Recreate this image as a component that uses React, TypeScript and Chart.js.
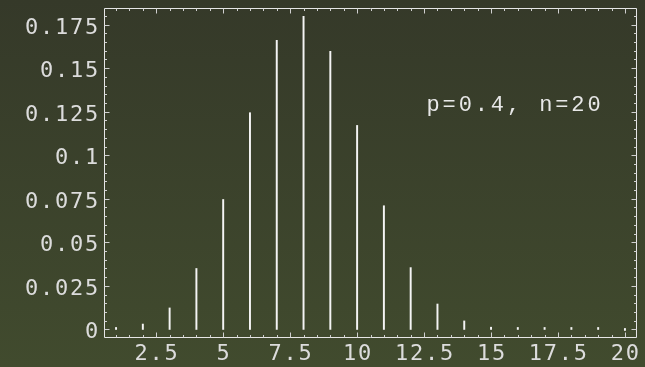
import React, { useEffect, useRef } from "react";
import { Chart, registerables } from "chart.js";

Chart.register(...registerables);

// Binomial distribution, p = 0.4, n = 20
const kValues = [1, 2, 3, 4, 5, 6, 7, 8, 9, 10, 11, 12, 13, 14, 15, 16, 17, 18, 19, 20];
const probabilities = [
  0.00049, 0.0031, 0.01235, 0.035, 0.0746, 0.1244, 0.1659, 0.1797, 0.1597, 0.1171,
  0.071, 0.0355, 0.0146, 0.0049, 0.0013, 0.00027, 0.00004, 0.000005, 0.0000003, 0.0,
];

const xTickValues = [2.5, 5, 7.5, 10, 12.5, 15, 17.5, 20];
const xTickLabels = ["2.5", "5", "7.5", "10", "12.5", "15", "17.5", "20"];
const yTickValues = [0, 0.025, 0.05, 0.075, 0.1, 0.125, 0.15, 0.175];
const yTickLabels = ["0", "0.025", "0.05", "0.075", "0.1", "0.125", "0.15", "0.175"];
const annotationText = "p=0.4, n=20";

const X_MIN = 0.55;
const X_MAX = 20.45;
const Y_MIN = -0.0049;
const Y_MAX = 0.1845;

function drawSpaced(
  ctx: CanvasRenderingContext2D,
  text: string,
  x: number,
  y: number,
  pitch: number,
  align: "left" | "center" | "right"
) {
  const n = text.length;
  const total = n * pitch;
  let start = x;
  if (align === "center") start = x - total / 2;
  else if (align === "right") start = x - total;
  ctx.textAlign = "center";
  for (let i = 0; i < n; i++) {
    ctx.fillText(text[i], start + (i + 0.5) * pitch, y);
  }
}

const backgroundPlugin = {
  id: "bgGradient",
  beforeDraw(chart: any) {
    const ctx = chart.ctx as CanvasRenderingContext2D;
    const g = ctx.createLinearGradient(0, 0, 0, chart.height);
    g.addColorStop(0, "rgb(53,57,41)");
    g.addColorStop(1, "rgb(65,75,46)");
    ctx.save();
    ctx.fillStyle = g;
    ctx.fillRect(0, 0, chart.width, chart.height);
    ctx.restore();
  },
};

const framePlugin = {
  id: "frameAxes",
  afterDraw(chart: any) {
    const ctx = chart.ctx as CanvasRenderingContext2D;
    const { left, right, top, bottom } = chart.chartArea;
    const xs = chart.scales.x;
    const ys = chart.scales.y;
    ctx.save();
    ctx.strokeStyle = "#e6e6e6";
    ctx.lineWidth = 1;
    const L = Math.round(left) + 0.5;
    const R = Math.round(right) - 0.5;
    const T = Math.round(top) + 0.5;
    const B = Math.round(bottom) - 0.5;
    ctx.beginPath();
    ctx.rect(L, T, R - L, B - T);
    ctx.stroke();

    ctx.strokeStyle = "#d0d0d0";
    ctx.beginPath();
    for (let v = 1; v <= 20.0001; v += 0.5) {
      const px = Math.round(xs.getPixelForValue(v)) + 0.5;
      const major = xTickValues.some((t) => Math.abs(t - v) < 1e-6);
      const len = major ? 5 : 2.5;
      ctx.moveTo(px, B);
      ctx.lineTo(px, B - len);
      ctx.moveTo(px, T);
      ctx.lineTo(px, T + len);
    }
    for (let i = 0; i <= 36; i++) {
      const v = i * 0.005;
      if (v > Y_MAX) break;
      const py = Math.round(ys.getPixelForValue(v)) + 0.5;
      const major = i % 5 === 0;
      const len = major ? 5 : 2.5;
      ctx.moveTo(L, py);
      ctx.lineTo(L + len, py);
      ctx.moveTo(R, py);
      ctx.lineTo(R - len, py);
    }
    ctx.stroke();

    ctx.fillStyle = "#dcdcdc";
    ctx.font = '22px "DejaVu Sans Mono", monospace';
    ctx.textBaseline = "alphabetic";
    yTickValues.forEach((v, i) => {
      const py = ys.getPixelForValue(v);
      drawSpaced(ctx, yTickLabels[i], 99, py + 9, 15, "right");
    });
    xTickValues.forEach((v, i) => {
      const px = xs.getPixelForValue(v);
      drawSpaced(ctx, xTickLabels[i], px, 360, 15, "center");
    });

    ctx.font = '22px "Liberation Mono", monospace';
    ctx.fillStyle = "#e8e8e8";
    drawSpaced(ctx, annotationText, 425, 111, 16.1, "left");
    ctx.restore();
  },
};

export default function App() {
  const canvasRef = useRef<HTMLCanvasElement | null>(null);

  useEffect(() => {
    const canvas = canvasRef.current;
    if (!canvas) return;
    const chart = new Chart(canvas, {
      type: "bar",
      data: {
        datasets: [
          {
            data: kValues.map((k, i) => ({ x: k, y: probabilities[i] })),
            backgroundColor: "#f4f4f4",
            borderWidth: 0,
            barThickness: 1.3,
            minBarLength: 2,
            grouped: false,
          } as any,
        ],
      },
      options: {
        responsive: false,
        animation: false,
        devicePixelRatio: 1,
        layout: { padding: { left: 104, right: 8, top: 8, bottom: 29 } },
        plugins: { legend: { display: false }, tooltip: { enabled: false } },
        scales: {
          x: { type: "linear", min: X_MIN, max: X_MAX, display: false, offset: false },
          y: { type: "linear", min: Y_MIN, max: Y_MAX, display: false },
        },
      },
      plugins: [backgroundPlugin, framePlugin],
    });
    return () => chart.destroy();
  }, []);

  return (
    <div style={{ width: 645, height: 367 }}>
      <canvas
        ref={canvasRef}
        width={645}
        height={367}
        style={{ position: "fixed", left: 0, top: 0, width: 645, height: 367 }}
      />
    </div>
  );
}
